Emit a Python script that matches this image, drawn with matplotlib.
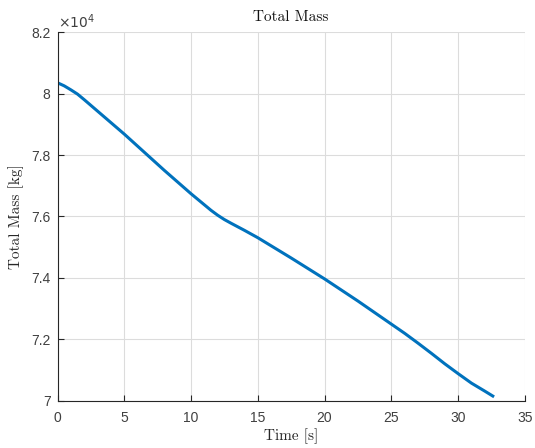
import matplotlib
matplotlib.use("Agg")
import matplotlib.pyplot as plt
from matplotlib.ticker import FuncFormatter

time_s = [0, 0.5, 1.0, 1.5, 2.0, 5, 8, 10, 11, 11.5, 12, 12.5, 13, 14, 15, 17.5, 20, 22.5,
          25, 26, 27, 28, 29, 30, 31, 32, 32.6]
mass_kg = [80350, 80250, 80120, 79980, 79800, 78680, 77500, 76740, 76380, 76200, 76040,
           75900, 75780, 75550, 75310, 74650, 73970, 73250, 72500, 72200, 71880, 71550,
           71210, 70890, 70580, 70320, 70160]

x_ticks = [0, 5, 10, 15, 20, 25, 30, 35]
y_ticks = [70000, 72000, 74000, 76000, 78000, 80000, 82000]

fig = plt.figure(figsize=(5.35, 4.48), dpi=100)
ax = fig.add_axes([0.1075, 0.105, 0.8735, 0.8235])

ax.plot(time_s, mass_kg, color="#0072BD", lw=2.2)
ax.set_xlim(0, 35)
ax.set_ylim(70000, 82000)
ax.set_xticks(x_ticks)
ax.set_yticks(y_ticks)
ax.yaxis.set_major_formatter(FuncFormatter(lambda v, p: "%g" % (v / 1e4)))
ax.grid(True, color="#dcdcdc", lw=0.8)
ax.set_axisbelow(True)
for s in ["top", "right"]:
    ax.spines[s].set_visible(False)
for s in ["left", "bottom"]:
    ax.spines[s].set_color("#262626")
    ax.spines[s].set_linewidth(0.8)
ax.tick_params(direction="in", length=4, width=0.8, colors="#262626",
               labelsize=10, labelcolor="#404040")
ax.tick_params(axis="x", pad=7)
ax.tick_params(axis="y", pad=5)
for lab in ax.get_xticklabels() + ax.get_yticklabels():
    lab.set_family("Liberation Sans")

ax.text(0.0, 1.004, r"$\times10^{4}$", transform=ax.transAxes, ha="left", va="bottom",
        fontsize=10, color="#404040", family="Liberation Sans")
ax.set_title("Total Mass", family="cmr10", fontsize=11, pad=8, color="#111111")
ax.set_xlabel("Time [s]", family="cmr10", fontsize=11, labelpad=3, color="#262626")
ax.set_ylabel("Total Mass [kg]", family="cmr10", fontsize=11, labelpad=5, color="#262626")

fig.savefig("out.png", dpi=100)
